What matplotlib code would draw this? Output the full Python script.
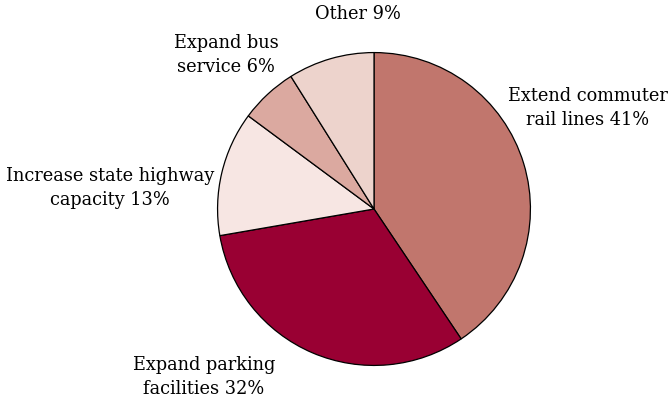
import matplotlib
matplotlib.use("Agg")
import matplotlib.pyplot as plt

# ============================================================
# Data
# ============================================================
categories = [
    "Extend commuter\nrail lines",
    "Expand parking\nfacilities",
    "Increase state highway\ncapacity",
    "Expand bus\nservice",
    "Other",
]
shares = [41, 32, 13, 6, 9]
colors = ["#C1766D", "#990033", "#F7E6E3", "#DBA9A0", "#EDD3CC"]

# label block centres in figure pixels (x, y from top)
label_pos = [(588, 108), (204, 377), (110, 188), (226, 55), (358, 14)]

plt.rcParams["font.family"] = ["DejaVu Serif"]

fig = plt.figure(figsize=(6.68, 4.0), dpi=100)
W, H = 668, 400
cx, cy, r = 374, 209, 158
ax = fig.add_axes([(cx - r) / W, (H - cy - r) / H, 2 * r / W, 2 * r / H])

ax.pie(
    shares,
    colors=colors,
    startangle=90,
    counterclock=False,
    wedgeprops=dict(edgecolor="black", linewidth=0.9),
)
ax.set_xlim(-1.01, 1.01)
ax.set_ylim(-1.01, 1.01)
ax.set_aspect("equal")
ax.axis("off")

for name, val, (px, py) in zip(categories, shares, label_pos):
    fig.text(
        px / W, 1 - py / H, f"{name} {val}%",
        ha="center", va="center", fontsize=12.8, linespacing=1.4,
    )

fig.savefig("out.png", dpi=100, facecolor="white")
